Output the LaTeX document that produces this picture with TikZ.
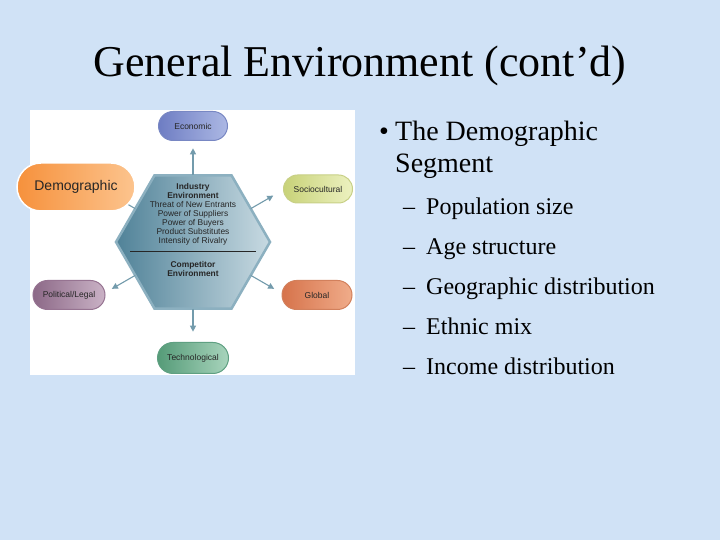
\documentclass[tikz,border=0pt]{standalone}
\usepackage{fontspec}
\setmainfont{Liberation Serif}
\newfontfamily\diag{Liberation Sans}
\usetikzlibrary{shapes.geometric,arrows.meta,calc}
\definecolor{bgblue}{RGB}{208,226,246}
\definecolor{hexdark}{RGB}{80,130,152}
\definecolor{hexlight}{RGB}{200,218,226}
\definecolor{hexedge}{RGB}{140,176,192}
\definecolor{arrcol}{RGB}{115,155,172}
\definecolor{ecoL}{RGB}{110,125,195}\definecolor{ecoR}{RGB}{172,184,228}\definecolor{ecoB}{RGB}{120,135,195}
\definecolor{socL}{RGB}{200,210,120}\definecolor{socR}{RGB}{236,241,192}\definecolor{socB}{RGB}{200,208,135}
\definecolor{gloL}{RGB}{214,115,75}\definecolor{gloR}{RGB}{240,172,138}\definecolor{gloB}{RGB}{210,128,92}
\definecolor{polL}{RGB}{140,105,135}\definecolor{polR}{RGB}{202,178,198}\definecolor{polB}{RGB}{150,115,145}
\definecolor{tecL}{RGB}{85,155,120}\definecolor{tecR}{RGB}{168,212,188}\definecolor{tecB}{RGB}{95,160,130}
\definecolor{demL}{RGB}{246,145,60}\definecolor{demR}{RGB}{252,196,142}
\tikzset{
  pill/.style={rectangle, rounded corners=14.5pt, inner sep=0pt, font=\diag\fontsize{8.5}{9}\selectfont, text=black!85, line width=1pt},
  arr/.style={draw=arrcol, line width=1.1pt, -{Triangle[length=6pt,width=6pt]}},
  slide/.style={anchor=base west, inner sep=0pt, font=\fontsize{24}{28}\selectfont},
  hextext/.style={align=center, inner sep=0pt, font=\diag\fontsize{8.4}{9}\selectfont, text=black!85}
}
\begin{document}
\begin{tikzpicture}[x=1pt,y=1pt]
\useasboundingbox (0,0) rectangle (720,540);
\fill[bgblue] (0,0) rectangle (720,540);
% title
\node[anchor=base, inner sep=0pt, font=\fontsize{44}{50}\selectfont] (title) at (360,463) {General Environment (cont’d)};
% white panel
\fill[white] (30,165) rectangle (355,430);
% hexagon
\node[regular polygon, regular polygon sides=6, minimum size=154pt, inner sep=0pt, outer sep=0pt,
      left color=hexdark, right color=hexlight, draw=hexedge, line width=2.5pt] (hex) at (193,298) {};
\node[hextext] (ind) at (193,325.5) {\textbf{Industry}\\\textbf{Environment}\\Threat of New Entrants\\Power of Suppliers\\Power of Buyers\\Product Substitutes\\Intensity of Rivalry};
\coordinate (dl) at (130,289);
\coordinate (dr) at (256,289);
\draw[black!85, line width=0.8pt] (dl) -- (dr);
\node[hextext] (comp) at (193,270.5) {\textbf{Competitor}\\\textbf{Environment}};
% outer boxes
\node[pill, minimum width=69pt, minimum height=29pt, left color=ecoL, right color=ecoR, draw=ecoB] (eco) at (193,414) {Economic};
\node[pill, rounded corners=14pt, minimum width=69pt, minimum height=28pt, left color=socL, right color=socR, draw=socB] (soc) at (318,351) {Sociocultural};
\node[pill, minimum width=70pt, minimum height=29pt, left color=gloL, right color=gloR, draw=gloB] (glo) at (317,245) {Global};
\node[pill, minimum width=72pt, minimum height=29pt, left color=polL, right color=polR, draw=polB] (pol) at (69,245) {Political/Legal};
\node[pill, rounded corners=15.5pt, minimum width=71pt, minimum height=31pt, left color=tecL, right color=tecR, draw=tecB] (tec) at (193,182) {Technological};
% arrows
\coordinate (eE) at ($(hex.90)+(90:27)$);
\coordinate (sE) at ($(hex.30)+(30:26)$);
\coordinate (gE) at ($(hex.330)+(330:27)$);
\coordinate (tE) at ($(hex.270)+(270:23)$);
\coordinate (pE) at ($(hex.210)+(210:27)$);
\coordinate (dE) at ($(hex.150)+(150:26)$);
\draw[arr] (hex.90) -- (eE);
\draw[arr] (hex.30) -- (sE);
\draw[arr] (hex.330) -- (gE);
\draw[arr] (hex.270) -- (tE);
\draw[arr] (hex.210) -- (pE);
\draw[arr] (hex.150) -- (dE);
% demographic box on top
\node[pill, rounded corners=24pt, minimum width=118pt, minimum height=48pt, left color=demL, right color=demR, draw=white, line width=1.5pt, font=\diag\fontsize{14}{16}\selectfont] (dem) at (76,353) {Demographic};
% bullet text
\node[slide, font=\fontsize{28}{32}\selectfont] (b1) at (379,399) {•};
\node[slide, font=\fontsize{28}{32}\selectfont] (t1) at (395,399) {The Demographic};
\node[slide, font=\fontsize{28}{32}\selectfont] (t2) at (395,367) {Segment};
\node[slide] (d1) at (403,325) {–};
\node[slide] (s1) at (426,325) {Population size};
\node[slide] (d2) at (403,285) {–};
\node[slide] (s2) at (426,285) {Age structure};
\node[slide] (d3) at (403,245) {–};
\node[slide] (s3) at (426,245) {Geographic distribution};
\node[slide] (d4) at (403,205) {–};
\node[slide] (s4) at (426,205) {Ethnic mix};
\node[slide] (d5) at (403,165) {–};
\node[slide] (s5) at (426,165) {Income distribution};
\end{tikzpicture}
\end{document}
